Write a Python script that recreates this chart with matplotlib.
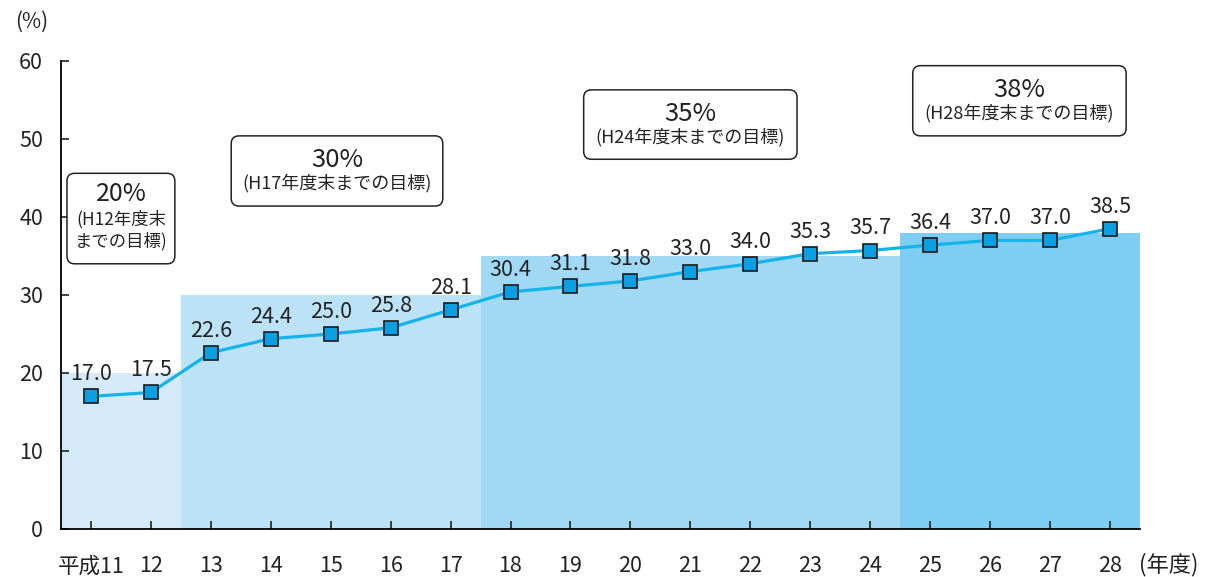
import matplotlib
matplotlib.use("Agg")
import matplotlib.pyplot as plt
from matplotlib.patches import FancyBboxPatch

plt.rcParams["font.family"] = ["Noto Sans CJK JP", "DejaVu Sans"]

# ── Data ──────────────────────────────────────────────────────────────────────
years = ["平成11", "12", "13", "14", "15", "16", "17", "18", "19", "20",
         "21", "22", "23", "24", "25", "26", "27", "28"]
rates = [17.0, 17.5, 22.6, 24.4, 25.0, 25.8, 28.1, 30.4, 31.1, 31.8,
         33.0, 34.0, 35.3, 35.7, 36.4, 37.0, 37.0, 38.5]

# target periods: first / last year index covered, target value
target_first = [0, 2, 7, 14]
target_last = [1, 6, 13, 17]
target_value = [20, 30, 35, 38]
target_label = ["20%", "30%", "35%", "38%"]
target_note = ["(H12年度末\nまでの目標)", "(H17年度末までの目標)",
               "(H24年度末までの目標)", "(H28年度末までの目標)"]
target_colours = ["#d5eaf9", "#bbe2f7", "#a1d8f4", "#7ecdf2"]

TXT = "#222222"

# ── Figure ────────────────────────────────────────────────────────────────────
fig = plt.figure(figsize=(12.05, 5.77), dpi=100)
ax = fig.add_axes([0.0506, 0.0832, 0.8954, 0.8111])

x = list(range(len(years)))

for first, last, val, col in zip(target_first, target_last, target_value, target_colours):
    ax.bar(first - 0.5, val, width=last - first + 1, align="edge",
           color=col, edgecolor="none", zorder=1)

ax.plot(x, rates, color="#14b4ea", linewidth=2.3, marker="s", markersize=10.5,
        markerfacecolor="#0a9fe3", markeredgecolor="#1a1a1a",
        markeredgewidth=1.2, zorder=3)

for xi, r in zip(x, rates):
    ax.annotate(f"{r:.1f}", (xi, r), xytext=(0, 8), textcoords="offset points",
                ha="center", va="bottom", fontsize=15.5, color=TXT, zorder=4)

# target boxes (x0, x1, y0, y1 in data coords)
px_ratio = 59.94 / 7.8   # pixels per x unit / pixels per y unit
box_pos = [(-0.40, 1.40, 34.0, 45.6), (2.34, 5.87, 41.4, 50.4),
           (8.22, 11.78, 47.4, 56.3), (13.71, 17.27, 50.4, 59.4)]
for (x0, x1, y0, y1), lab, note in zip(box_pos, target_label, target_note):
    patch = FancyBboxPatch((x0, y0), x1 - x0, y1 - y0,
                           boxstyle="round,pad=0,rounding_size=0.13",
                           mutation_aspect=px_ratio,
                           facecolor="white", edgecolor="#222222",
                           linewidth=1.1, zorder=5, clip_on=False)
    ax.add_patch(patch)
    xc = (x0 + x1) / 2
    if "\n" in note:
        ax.text(xc, y1 - 2.6, lab, ha="center", va="center",
                fontsize=18, color=TXT, zorder=6)
        ax.text(xc, y0 + 4.3, note, ha="center", va="center",
                fontsize=12.5, color=TXT, linespacing=1.3, zorder=6)
    else:
        ax.text(xc, y1 - 3.1, lab, ha="center", va="center",
                fontsize=18.5, color=TXT, zorder=6)
        ax.text(xc, y0 + 2.9, note, ha="center", va="center",
                fontsize=13, color=TXT, zorder=6)

ax.set_xlim(-0.5, 17.5)
ax.set_ylim(0, 60)
ax.set_xticks(x)
ax.set_xticklabels(years)
ax.set_yticks(range(0, 61, 10))

ax.spines["top"].set_visible(False)
ax.spines["right"].set_visible(False)
for s in ("left", "bottom"):
    ax.spines[s].set_linewidth(1.3)
    ax.spines[s].set_zorder(7)
ax.tick_params(axis="x", direction="in", length=6, width=1.2, pad=19,
               labelsize=15.5, colors=TXT)
ax.tick_params(axis="y", direction="in", length=6, width=1.2, pad=13,
               labelsize=15.5, colors=TXT)

fig.text(0.026, 0.963, "(%)", ha="center", va="center", fontsize=15, color=TXT)
fig.text(0.970, 0.021, "(年度)", ha="center", va="center", fontsize=16, color=TXT)

fig.savefig("out.png", dpi=100)
